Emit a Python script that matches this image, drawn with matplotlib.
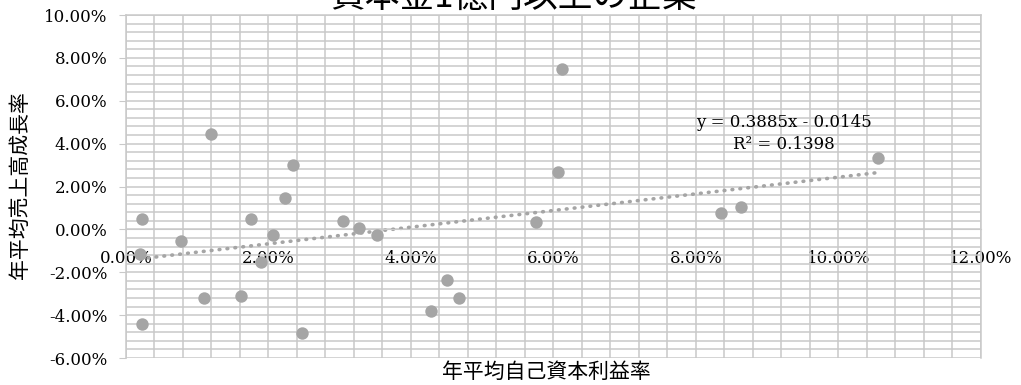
import matplotlib
matplotlib.use("Agg")
import matplotlib.pyplot as plt
import numpy as np
from matplotlib.ticker import MultipleLocator, FuncFormatter

plt.rcParams['axes.unicode_minus'] = False

# return on equity (x) vs sales growth (y), in percent
roe = [1.19, 2.35, 2.23, 6.12, 6.06, 10.56, 0.22, 0.20, 0.77, 1.09, 1.62, 1.76, 1.89,
       2.07, 2.47, 0.22, 3.04, 3.27, 3.53, 4.28, 4.50, 4.67, 5.75, 8.35, 8.63]
growth = [4.44, 3.00, 1.47, 7.49, 2.68, 3.31, 0.50, -1.14, -0.52, -3.22, -3.09, 0.50, -1.53,
          -0.25, -4.81, -4.42, 0.39, 0.06, -0.25, -3.79, -2.36, -3.22, 0.34, 0.78, 1.05]

# linear trendline as shown on the chart
slope = 0.3885
intercept = -0.0145
r2 = 0.1398

title = "資本金1億円以上の企業"
xlabel = "年平均自己資本利益率"
ylabel = "年平均売上高成長率"

x = np.array(roe) / 100
y = np.array(growth) / 100

fig = plt.figure(figsize=(10.21, 3.85), dpi=100)
ax = fig.add_axes([0.1234, 0.0701, 0.8374, 0.8909])

grid_c = "#c9c9c9"
pt_c = "#a5a5a5"

ax.set_xlim(0, 0.12)
ax.set_ylim(-0.06, 0.10)
ax.xaxis.set_major_locator(MultipleLocator(0.02))
ax.xaxis.set_minor_locator(MultipleLocator(0.004))
ax.yaxis.set_major_locator(MultipleLocator(0.02))
ax.yaxis.set_minor_locator(MultipleLocator(0.004))
ax.grid(True, which="both", color=grid_c, linewidth=1.1)
ax.set_axisbelow(True)

fmt = FuncFormatter(lambda v, p: f"{v*100:.2f}%")
ax.xaxis.set_major_formatter(fmt)
ax.yaxis.set_major_formatter(fmt)

for s in ["top", "right", "left"]:
    ax.spines[s].set_color(grid_c)
    ax.spines[s].set_linewidth(1.1)
ax.spines["bottom"].set_position(("data", 0))
ax.spines["bottom"].set_color(grid_c)

ax.tick_params(axis="y", which="major", length=5, color=grid_c, pad=8.5,
               labelsize=12, labelfontfamily="DejaVu Serif")
ax.tick_params(axis="x", which="major", length=0, pad=15,
               labelsize=12, labelfontfamily="DejaVu Serif")
ax.tick_params(which="minor", length=0)

ax.scatter(x, y, s=80, color=pt_c, zorder=3, linewidths=0)

xs = np.array([x.min(), x.max()])
ax.plot(xs, slope * xs + intercept, color=pt_c, linewidth=2.6,
        linestyle=(0, (0.2, 2.0)), dash_capstyle="round", zorder=2)

ax.text(0.0924, 0.0447, f"y = {slope}x - {abs(intercept)}\nR² = {r2}",
        ha="center", va="center", fontsize=12, family="DejaVu Serif",
        linespacing=1.4, zorder=4)

cjk = ["Noto Sans CJK JP", "DejaVu Sans"]
fig.text(0.503, 1.008, title, ha="center", va="center", fontsize=25, family=cjk)
fig.text(0.535, 0.033, xlabel, ha="center", va="center", fontsize=15, family=cjk)
fig.text(0.02, 0.519, ylabel, ha="center", va="center", rotation=90,
         fontsize=15, family=cjk)

fig.savefig("out.png", dpi=100)
